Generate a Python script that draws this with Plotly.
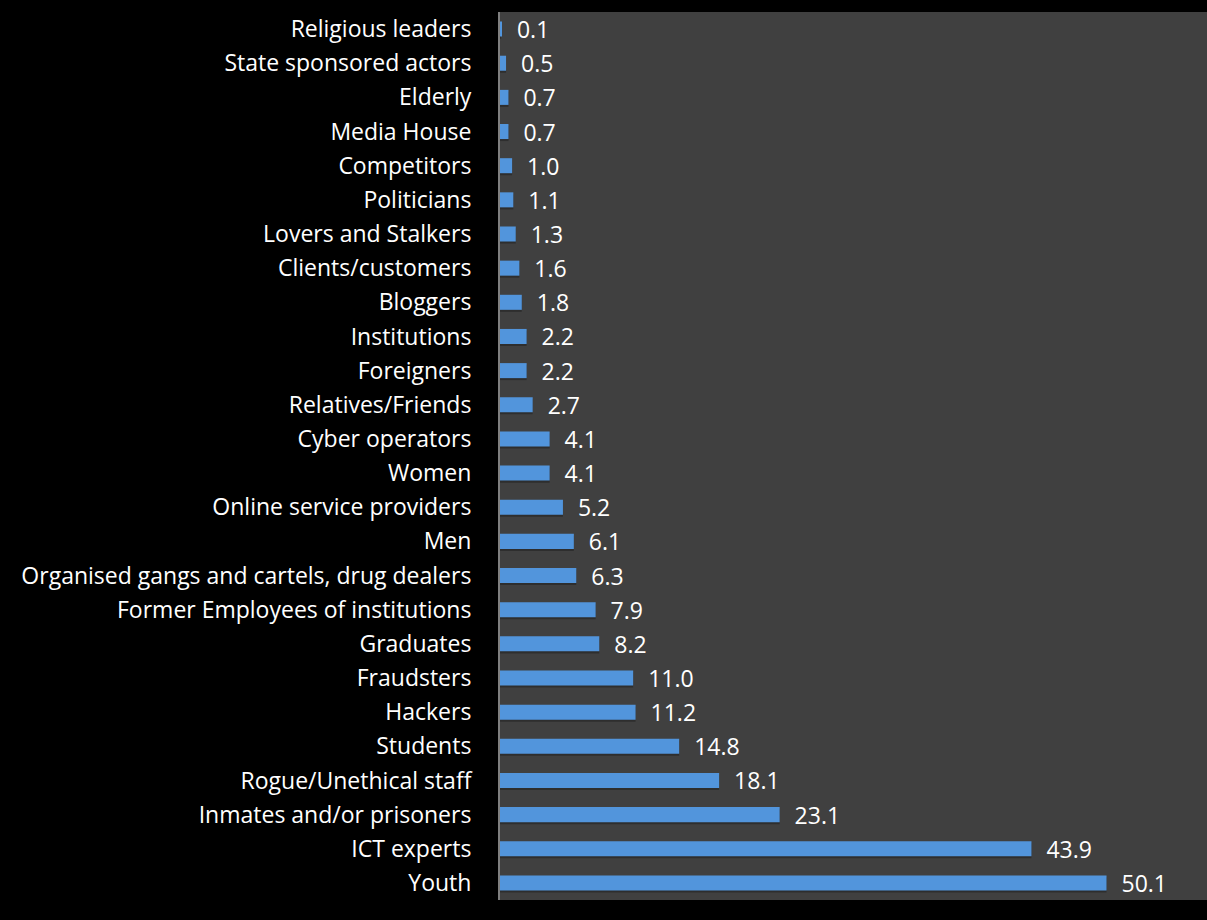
import plotly.graph_objects as go

# Offender categories, listed bottom to top
categories = [
    "Youth", "ICT experts", "Inmates and/or prisoners", "Rogue/Unethical staff",
    "Students", "Hackers", "Fraudsters", "Graduates",
    "Former Employees of institutions", "Organised gangs and cartels, drug dealers",
    "Men", "Online service providers", "Women", "Cyber operators",
    "Relatives/Friends", "Foreigners", "Institutions", "Bloggers",
    "Clients/customers", "Lovers and Stalkers", "Politicians", "Competitors",
    "Media House", "Elderly", "State sponsored actors", "Religious leaders",
]
percentages = [
    50.1, 43.9, 23.1, 18.1, 14.8, 11.2, 11.0, 8.2, 7.9, 6.3,
    6.1, 5.2, 4.1, 4.1, 2.7, 2.2, 2.2, 1.8, 1.6, 1.3,
    1.1, 1.0, 0.7, 0.7, 0.5, 0.1,
]

FONT = "'Open Sans', sans-serif"
SIZE = 23

fig = go.Figure()

# soft drop shadow beneath each bar
fig.add_trace(go.Bar(
    y=categories, x=percentages, orientation="h",
    marker=dict(color="rgba(0,0,0,0.28)", line=dict(width=0)),
    width=0.44, offset=-0.28, hoverinfo="skip", showlegend=False,
))

fig.add_trace(go.Bar(
    y=categories, x=percentages, orientation="h",
    marker=dict(color="#5295dc", line=dict(width=0)),
    width=0.44, offset=-0.22,
    text=[f"{v:.1f}" for v in percentages],
    texttemplate="  %{text}",
    textposition="outside",
    constraintext="none",
    textfont=dict(color="white", size=SIZE, family=FONT),
    cliponaxis=False, showlegend=False,
))

fig.update_layout(
    width=1207, height=920,
    margin=dict(l=500, r=0, t=12, b=20),
    paper_bgcolor="black",
    plot_bgcolor="#404040",
    barmode="overlay",
    font=dict(family=FONT, color="white", size=SIZE),
    xaxis=dict(range=[0, 58.4], visible=False, showgrid=False, zeroline=False),
    yaxis=dict(
        categoryorder="array", categoryarray=categories,
        showgrid=False, zeroline=False,
        showline=True, linecolor="#7f7f7f", linewidth=2,
        ticks="", ticklabelstandoff=22,
        tickfont=dict(color="white", size=SIZE, family=FONT),
    ),
)

fig.write_html("out.html")
